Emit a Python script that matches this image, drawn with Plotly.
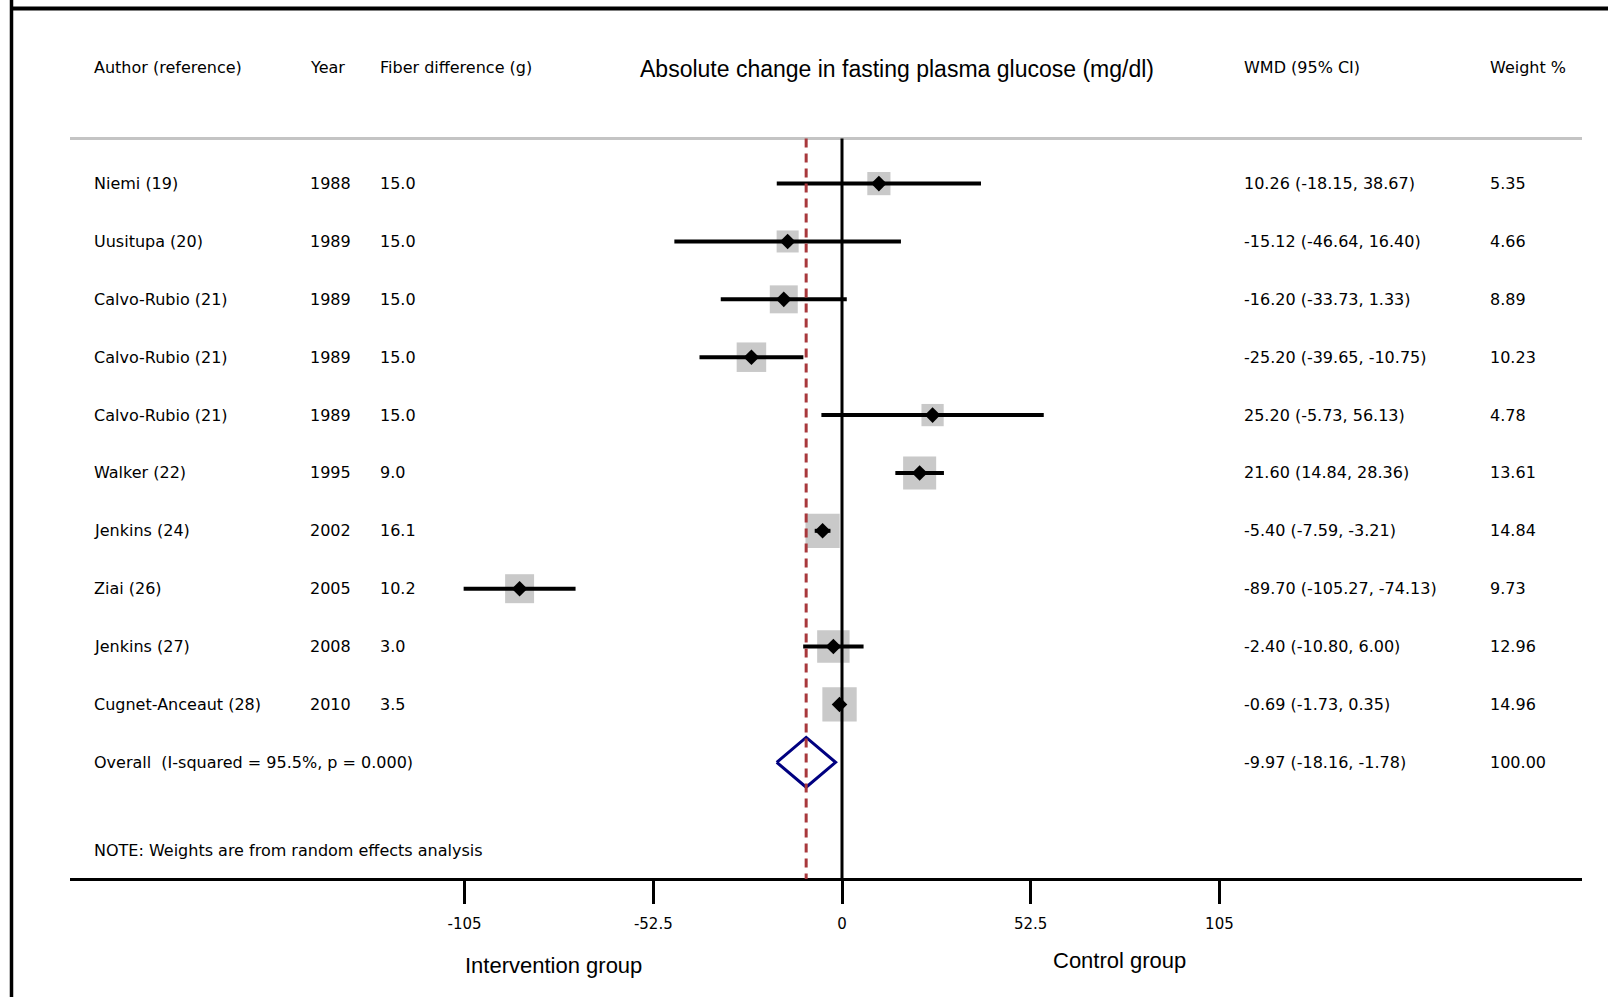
import plotly.graph_objects as go
import numpy as np

# ---------------- data ----------------
authors = ["Niemi (19)", "Uusitupa (20)", "Calvo-Rubio (21)", "Calvo-Rubio (21)",
           "Calvo-Rubio (21)", "Walker (22)", "Jenkins (24)", "Ziai (26)",
           "Jenkins (27)", "Cugnet-Anceaut (28)"]
years = [1988, 1989, 1989, 1989, 1989, 1995, 2002, 2005, 2008, 2010]
fiber = [15.0, 15.0, 15.0, 15.0, 15.0, 9.0, 16.1, 10.2, 3.0, 3.5]
wmd = [10.26, -15.12, -16.20, -25.20, 25.20, 21.60, -5.40, -89.70, -2.40, -0.69]
ci_low = [-18.15, -46.64, -33.73, -39.65, -5.73, 14.84, -7.59, -105.27, -10.80, -1.73]
ci_high = [38.67, 16.40, 1.33, -10.75, 56.13, 28.36, -3.21, -74.13, 6.00, 0.35]
weights = [5.35, 4.66, 8.89, 10.23, 4.78, 13.61, 14.84, 9.73, 12.96, 14.96]

overall_label = "Overall  (I-squared = 95.5%, p = 0.000)"
overall_wmd = -9.97
overall_low = -18.16
overall_high = -1.78
overall_weight = 100.00

tick_vals = [-105, -52.5, 0, 52.5, 105]
tick_text = ["-105", "-52.5", "0", "52.5", "105"]

headers = ["Author (reference)", "Year", "Fiber difference (g)",
           "WMD (95% CI)", "Weight %"]
title_text = "Absolute change in fasting plasma glucose (mg/dl)"
note_text = "NOTE: Weights are from random effects analysis"
left_label = "Intervention group"
right_label = "Control group"

# ---------------- layout geometry ----------------
W, H = 1608, 997
L, R = 70, 26
plot_w = W - L - R
x0_px = 842.0
px_per_unit = 188.7 / 52.5
xrange = [(L - x0_px) / px_per_unit, (W - R - x0_px) / px_per_unit]
row0_px, row_px = 183.6, 57.87
yrange = [(H - row0_px) / row_px, -row0_px / row_px]


def rp(px):
    return (px - row0_px) / row_px


def xp(px):
    return (px - L) / plot_w


n = len(authors)
rows = list(range(n))
overall_row = n
header_row = rp(67)
line_row = rp(138.5)
axis_row = rp(879)

TXT = dict(family="DejaVu Sans", size=16, color="black")
BIG = dict(family="Liberation Sans", size=22, color="black")

fig = go.Figure()

# CI lines
cx, cy = [], []
for i in rows:
    cx += [ci_low[i], ci_high[i], None]
    cy += [i, i, None]

# weight boxes
box_sizes = [6.5 + 7.2 * np.sqrt(w) for w in weights]
fig.add_trace(go.Scatter(x=wmd, y=rows, mode="markers",
                         marker=dict(symbol="square", size=box_sizes,
                                     color="#b2b2b2", line=dict(width=0)),
                         showlegend=False))
# CI lines on top of boxes
fig.add_trace(go.Scatter(x=cx, y=cy, mode="lines",
                         line=dict(color="black", width=4),
                         hoverinfo="skip", showlegend=False))
# point estimates
fig.add_trace(go.Scatter(x=wmd, y=rows, mode="markers",
                         marker=dict(symbol="diamond", size=12, color="black"),
                         showlegend=False))

# overall diamond
h = 0.43
fig.add_trace(go.Scatter(
    x=[overall_low, overall_wmd, overall_high, overall_wmd, overall_low],
    y=[overall_row, overall_row - h, overall_row, overall_row + h, overall_row],
    mode="lines", line=dict(color="#000080", width=3),
    hoverinfo="skip", showlegend=False))

shapes = []
# frame (left and top)
shapes.append(dict(type="line", xref="paper", yref="paper",
                   x0=xp(11.5), x1=xp(11.5), y0=0, y1=1,
                   line=dict(color="black", width=3.5)))
shapes.append(dict(type="line", xref="paper", yref="paper",
                   x0=xp(10), x1=xp(W + 5), y0=1 - 8.5 / H, y1=1 - 8.5 / H,
                   line=dict(color="black", width=4)))
# header separator
shapes.append(dict(type="line", xref="paper", yref="y",
                   x0=0, x1=1, y0=line_row, y1=line_row,
                   line=dict(color="#c4c4c4", width=3)))
# zero line
shapes.append(dict(type="line", xref="x", yref="y", x0=0, x1=0,
                   y0=line_row, y1=axis_row,
                   line=dict(color="black", width=3)))
# overall dashed line
shapes.append(dict(type="line", xref="x", yref="y",
                   x0=overall_wmd, x1=overall_wmd,
                   y0=line_row, y1=axis_row,
                   line=dict(color="#a8383c", width=3, dash="9px,6px")))

ann = []
col_px = [92, 308, 378]
wmd_px, wt_px = 1242, 1488
for txt, px in zip(headers[:3], col_px):
    ann.append(dict(text=txt, x=xp(px), y=header_row))
ann.append(dict(text=headers[3], x=xp(wmd_px), y=header_row))
ann.append(dict(text=headers[4], x=xp(wt_px), y=header_row))
for i in rows:
    ann.append(dict(text=authors[i], x=xp(col_px[0]), y=i))
    ann.append(dict(text=str(years[i]), x=xp(col_px[1]), y=i))
    ann.append(dict(text=f"{fiber[i]:.1f}", x=xp(col_px[2]), y=i))
    ann.append(dict(text=f"{wmd[i]:.2f} ({ci_low[i]:.2f}, {ci_high[i]:.2f})",
                    x=xp(wmd_px), y=i))
    ann.append(dict(text=f"{weights[i]:.2f}", x=xp(wt_px), y=i))
ann.append(dict(text=overall_label, x=xp(col_px[0]), y=overall_row))
ann.append(dict(text=f"{overall_wmd:.2f} ({overall_low:.2f}, {overall_high:.2f})",
                x=xp(wmd_px), y=overall_row))
ann.append(dict(text=f"{overall_weight:.2f}", x=xp(wt_px), y=overall_row))
ann.append(dict(text=note_text, x=xp(col_px[0]), y=rp(850)))
annotations = [dict(a, xref="paper", yref="y", xanchor="left", yanchor="middle",
                    showarrow=False, font=TXT) for a in ann]
annotations.append(dict(text=title_text, xref="paper", yref="y", x=xp(897),
                        y=rp(69), xanchor="center", yanchor="middle",
                        showarrow=False,
                        font=dict(family="Liberation Sans", size=23, color="black")))
annotations.append(dict(text=left_label, xref="paper", yref="y", x=xp(553),
                        y=rp(965), xanchor="center", yanchor="middle",
                        showarrow=False, font=BIG))
annotations.append(dict(text=right_label, xref="paper", yref="y", x=xp(1119),
                        y=rp(960), xanchor="center", yanchor="middle",
                        showarrow=False, font=BIG))

fig.update_layout(
    width=W, height=H,
    margin=dict(l=L, r=R, t=0, b=0, pad=0),
    paper_bgcolor="white", plot_bgcolor="white",
    showlegend=False,
    shapes=shapes, annotations=annotations,
    xaxis=dict(range=xrange, anchor="free", position=(H - 879) / H,
               showline=True, linecolor="black", linewidth=3,
               ticks="outside", ticklen=23, tickwidth=3, tickcolor="black",
               tickvals=tick_vals, ticktext=tick_text,
               tickfont=dict(family="DejaVu Sans", size=15, color="black"),
               ticklabelstandoff=7,
               showgrid=False, zeroline=False, fixedrange=True),
    yaxis=dict(range=yrange, visible=False, showgrid=False, zeroline=False,
               fixedrange=True, domain=[0, 1]),
)

fig.write_html("out.html")
